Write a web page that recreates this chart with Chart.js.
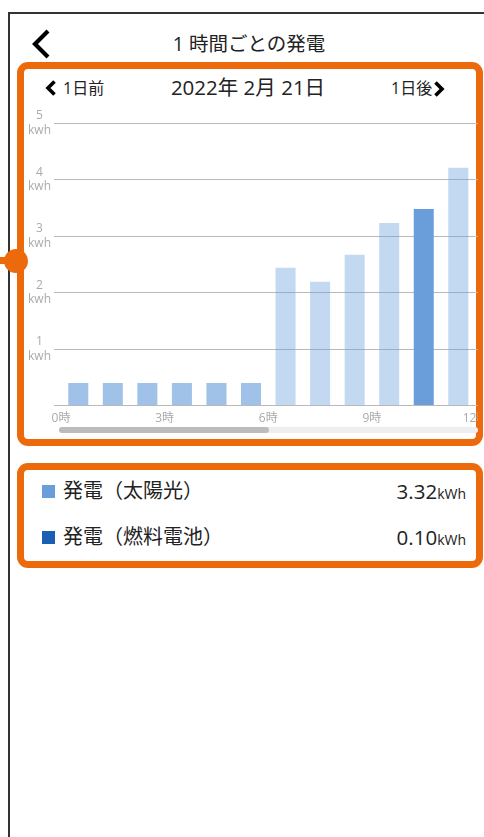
<!DOCTYPE html>
<html lang="ja">
<head>
<meta charset="utf-8">
<title>1時間ごとの発電</title>
<script src="https://cdn.jsdelivr.net/npm/chart.js@4/dist/chart.umd.min.js"></script>
<style>
  html, body { margin: 0; padding: 0; background: #fff; }
  body {
    position: relative; width: 484px; height: 837px; overflow: hidden;
    font-family: "Open Sans", "Noto Sans CJK JP", sans-serif; color: #222;
  }
  .abs { position: absolute; white-space: nowrap; }
  #frame {
    position: absolute; left: 8px; top: 12px; right: -4px; bottom: -4px;
    border-left: 2px solid #333; border-top: 2px solid #333;
  }
  .box {
    position: absolute; left: 17px; width: 452px;
    border: 7px solid #ec6a0c; border-radius: 11px; background: #fff;
  }
  #dotLine { position: absolute; left: 0; top: 257px; width: 14px; height: 7px; background: #ec6a0c; }
  #dot { position: absolute; left: 4px; top: 249px; width: 24px; height: 24px; border-radius: 50%; background: #ec6a0c; }
  .center { transform: translateX(-50%); text-align: center; }
  #plot { position: absolute; left: 24px; top: 100px; width: 454px; height: 334px; overflow: hidden; }
  #track { position: absolute; left: 59px; top: 427px; width: 419px; height: 6px; border-radius: 3px; background: #eeeeee; }
  #thumb { position: absolute; left: 0; top: 0; width: 210px; height: 6px; border-radius: 3px; background: #bcbcbc; }
  .row { position: absolute; left: 42px; width: 424px; height: 26px; }
  .sq { position: absolute; left: 0; top: 7px; width: 13px; height: 13px; }
  .name { position: absolute; left: 21px; top: 0; font-size: 20px; line-height: 26px; }
  .val { position: absolute; right: 0; top: 0; font-size: 20.5px; line-height: 26px; }
  .val small { font-size: 14px; }
</style>
</head>
<body>
<div id="frame"></div>

<!-- header -->
<svg class="abs" style="left:28px;top:26px" width="26" height="36">
  <polyline points="20,5 7,18 20,31" fill="none" stroke="#000" stroke-width="4.2"/>
</svg>
<div class="abs center" style="left:249px;top:30px;font-size:19.5px;line-height:28px">1 時間ごとの発電</div>

<div class="box" style="top:62px;height:370px"></div>
<div id="dotLine"></div>
<div id="dot"></div>

<svg class="abs" style="left:44px;top:79px" width="15" height="18">
  <polyline points="10.5,2.5 4,9 10.5,15.5" fill="none" stroke="#000" stroke-width="3.6"/>
</svg>
<div class="abs" style="left:63px;top:77px;font-size:16px;line-height:22px">1日前</div>
<div class="abs center" style="left:248px;top:73px;font-size:20.5px;line-height:28px">2022年 2月 21日</div>
<div class="abs" style="left:391px;top:77px;font-size:16px;line-height:22px">1日後</div>
<svg class="abs" style="left:431px;top:80px" width="15" height="18">
  <polyline points="4.5,2.5 11,9 4.5,15.5" fill="none" stroke="#000" stroke-width="3.6"/>
</svg>

<div id="plot"><canvas id="hourly" width="885" height="334"></canvas></div>
<div id="track"><div id="thumb"></div></div>

<!-- totals -->
<div class="box" style="top:463px;height:91px"></div>
<div id="totals"></div>

<script>
// 時刻 (0時〜11時) と発電量 kWh
const hours = [0, 1, 2, 3, 4, 5, 6, 7, 8, 9, 10, 11];
const generation = [0.4, 0.4, 0.4, 0.4, 0.4, 0.4, 2.44, 2.19, 2.67, 3.23, 3.48, 4.21];
const selectedHour = 10;

const xTickHours = [0, 3, 6, 9, 12, 15, 18, 21, 24];
const yTickValues = [0, 1, 2, 3, 4, 5];
const yUnit = "kwh";

// 合計
const totalNames = ["発電（太陽光）", "発電（燃料電池）"];
const totalValues = [3.32, 0.10];
const totalColors = ["#6a9edb", "#1b5fb5"];

const fontFamily = '"Open Sans", "Noto Sans CJK JP", sans-serif';

function barColor(ctx) {
    const h = hours[ctx.dataIndex];
    if (h === selectedHour) return "rgb(106,158,219)";
    if (h < 6) return "rgba(106,158,219,0.64)";
    return "rgba(106,158,219,0.4)";
}

new Chart(document.getElementById("hourly"), {
    type: "bar",
    data: {
        datasets: [{
            label: "発電",
            data: hours.map((h, i) => ({ x: h + 0.5, y: generation[i] })),
            backgroundColor: barColor,
            barPercentage: 0.58,
            categoryPercentage: 1
        }]
    },
    options: {
        responsive: false,
        animation: false,
        layout: { padding: { top: 23, right: 15, bottom: 2 } },
        plugins: { legend: { display: false }, tooltip: { enabled: false } },
        scales: {
            x: {
                type: "linear",
                offset: false,
                min: 0,
                max: 24,
                grid: { display: false, drawTicks: false },
                border: { display: false },
                afterBuildTicks: scale => { scale.ticks = xTickHours.map(v => ({ value: v })); },
                ticks: {
                    callback: v => v + "時",
                    color: "#aaa",
                    font: { size: 12, family: fontFamily },
                    padding: 6,
                    maxRotation: 0,
                    autoSkip: false
                }
            },
            y: {
                min: 0,
                max: 5,
                afterBuildTicks: scale => { scale.ticks = yTickValues.map(v => ({ value: v })); },
                afterFit: scale => { scale.width = 37; },
                grid: { color: "#b9b9b9", tickLength: 7 },
                border: { display: false },
                ticks: {
                    callback: v => v === 0 ? "" : [String(v), yUnit],
                    crossAlign: "center",
                    padding: 3,
                    color: "#aaa",
                    font: { size: 12, family: fontFamily, lineHeight: 1.2 }
                }
            }
        }
    }
});

// 合計の行
const totals = document.getElementById("totals");
totalNames.forEach((name, i) => {
    const row = document.createElement("div");
    row.className = "row";
    row.style.top = (478 + i * 46) + "px";
    row.innerHTML = `<div class="sq" style="background:${totalColors[i]}"></div>` +
        `<div class="name">${name}</div>` +
        `<div class="val">${totalValues[i].toFixed(2)}<small>kWh</small></div>`;
    totals.appendChild(row);
});
</script>
</body>
</html>
